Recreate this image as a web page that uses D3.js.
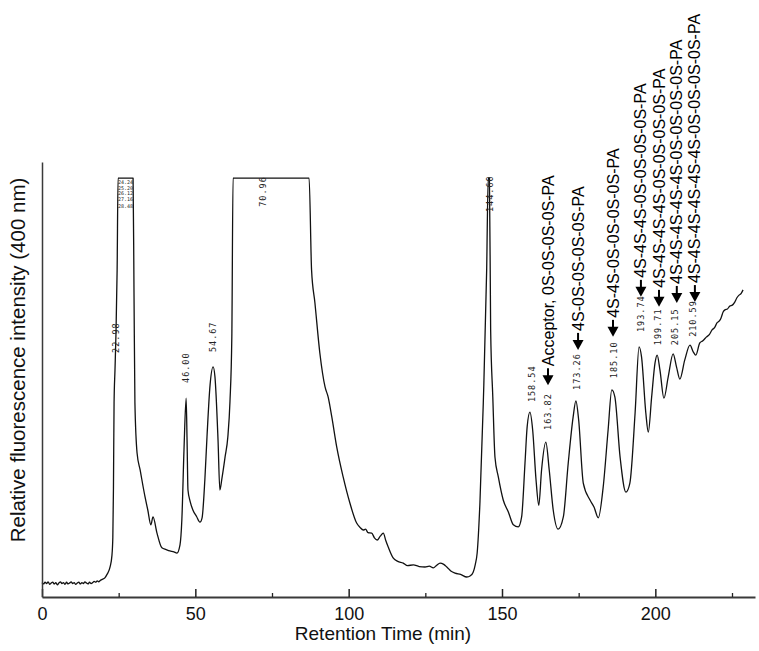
<!DOCTYPE html>
<html><head><meta charset="utf-8">
<script src="https://cdn.jsdelivr.net/npm/d3@7"></script>
<style>html,body{margin:0;padding:0;background:#fff;} svg{display:block;}</style>
</head><body>
<svg id="chart" width="759" height="651"></svg>
<script>
// ---------- data ----------
const timeMin = [
 0,0.5,1,1.5,2,2.5,3,3.5,4,4.5,5,5.5,6,6.5,7,7.5,8,8.5,9,9.5,10,10.5,11,11.5,12,12.5,13,13.5,14,14.5,15,15.5,16,16.5,17,17.5,18,18.5,19,19.5,
 20.5,21.2,22.2,22.8,23.1,23.3,23.5,23.8,24.1,24.5,24.8,29.7,30.0,30.3,31.0,32.0,33.6,34.5,35.5,36.2,37.5,39.1,40.5,41.7,43.0,44.0,45.0,45.6,46.3,47.0,47.3,47.6,48.3,49.2,50.4,51.5,52.2,53.1,53.8,54.8,55.8,56.4,57.4,58.0,58.7,59.7,60.6,61.3,61.9,62.3,
 87.1,87.9,89.0,90.6,92.3,93.3,94.5,96.1,98.2,100.4,102.6,103.7,104.8,105.5,106.3,107.5,108.4,109.3,110.3,111.3,112.1,112.9,114.5,116.0,117.8,119.2,121.1,123.0,124.9,126.3,127.6,128.7,129.8,131.0,132.0,133.3,134.7,136.5,138.5,139.7,140.6,141.3,141.9,142.8,143.9,145.0,145.5,145.9,146.3,
 147.0,147.7,148.8,150.4,152.1,153.7,155.3,156.4,157.5,158.2,159.1,160.0,161.1,162.0,162.9,164.3,165.4,166.7,168.3,170.0,171.6,173.2,174.1,175.0,176.5,178.7,180.0,181.4,183.0,184.6,185.8,186.8,188.5,190.4,191.7,193.4,194.7,195.5,196.9,197.7,198.8,199.9,200.6,201.5,202.8,204.2,205.8,206.9,208.0,209.6,211.3,212.4,213.2,214.5,215.5,216.7,217.6,218.5,219.3,220.1,220.8,221.4,222.1,222.7,223.5,224.3,225.1,225.9,226.6,227.3,228.0,228.6
];
const intensity = [
 3.3,3.0,3.4,3.1,3.5,2.9,3.2,3.4,3.0,3.3,2.8,3.2,3.5,3.1,3.3,2.9,3.4,3.0,3.2,3.5,3.1,3.3,2.9,3.2,3.4,3.0,3.3,3.1,3.5,3.2,3.0,3.4,3.1,3.3,3.6,3.4,3.7,3.5,3.8,4.0,
 4.4,5.2,6.9,9.5,13.8,25,44.6,52.2,60,75.2,96.3,96.3,70,44.6,33.1,29.2,23.0,20.0,16.6,18.4,14.7,11.3,10.9,10.6,10.4,10.1,12.0,17.7,33.8,45.7,36.1,24.6,22.0,20.0,18.5,17.2,18.2,26.9,36.8,48.7,52.9,50.6,36.1,24.6,27.4,32.2,36.8,45,59.8,96.3,
 96.3,75.2,67.6,56.1,48.3,46.0,41.4,34.5,27.6,21.6,17.0,16.0,15.4,15.6,14.8,14.7,13.6,13.1,14.0,14.7,13.0,11.5,9.0,8.2,7.8,7.2,7.4,7.0,6.9,7.1,6.7,7.3,7.8,7.5,6.9,6.0,5.5,5.2,4.6,4.9,5.7,7.5,10.1,21.6,44.6,75.2,96.3,96.3,61.4,
 46.0,32.2,27.6,22.3,19.5,16.6,16.1,18.4,30.8,39.1,42.5,38.4,26.9,21.1,29.2,35.6,29.2,20.0,15.6,18.4,30.8,41.4,45.1,40.7,26.2,22.3,20.7,18.2,25.3,38.4,47.6,46.0,32.2,24.1,26.2,42.3,57.5,55.2,42.3,37.9,46.0,53.8,55.6,52.2,45.7,50.6,55.9,52.9,50.1,54.5,57.9,56.3,55.6,58.4,58.9,59.8,60.3,61.4,61.9,63.0,63.4,64.1,65.5,66.0,66.2,66.9,67.1,67.8,68.8,69.4,69.8,70.6
];

const majorTicks = [0, 50, 100, 150, 200];
const minorTicks = [25, 75, 125, 175, 225];

// printer peak labels (retention time text, anchor time, anchor level)
const peakText  = ["22.98","46.00","54.67","70.96","144.60","158.54","163.82","173.26","185.10","193.74","199.71","205.15","210.59"];
const peakTime  = [24.1, 47.0, 55.8, 72.1, 146.1, 159.8, 165.0, 174.4, 186.5, 195.3, 200.9, 206.4, 212.3];
const peakLevel = [56.1, 49.2, 56.3, 89.7, 88.5, 44.8, 38.4, 47.6, 50.3, 60.9, 57.9, 57.9, 59.8];

// crowded labels on the saturated first peak
const clusterText  = ["24.24","25.20","26.12","27.16","28.48"];
const clusterTime  = [27.2, 27.2, 27.2, 27.2, 27.2];
const clusterLevel = [95.4, 94.0, 92.9, 91.5, 89.9];

// arrow annotations (text, time, level of arrow tip)
const annoText = [
 "Acceptor, 0S-0S-0S-0S-PA",
 "4S-0S-0S-0S-0S-PA",
 "4S-4S-0S-0S-0S-0S-PA",
 "4S-4S-4S-0S-0S-0S-0S-PA",
 "4S-4S-4S-4S-0S-0S-0S-0S-PA",
 "4S-4S-4S-4S-4S-0S-0S-0S-0S-PA",
 "4S-4S-4S-4S-4S-4S-0S-0S-0S-0S-PA"
];
const annoTime  = [165.0, 174.8, 186.2, 195.3, 201.2, 207.0, 212.9];
const annoLevel = [48.7, 56.8, 59.8, 69.0, 66.7, 67.6, 67.8];

// ---------- chart ----------
const svg = d3.select("#chart");
svg.append("rect").attr("width",759).attr("height",651).attr("fill","#fff");

const x = d3.scaleLinear().domain([0, 232.5]).range([42, 755]);
const y = d3.scaleLinear().domain([0, 100]).range([597, 162]);

const data = timeMin.map((t,i)=>({t, v:intensity[i]}));

// trace
const line = d3.line().x(d=>x(d.t)).y(d=>y(d.v)).curve(d3.curveMonotoneX);
svg.append("path").datum(data).attr("d", line)
  .attr("fill","none").attr("stroke","#111").attr("stroke-width",1.3).attr("stroke-linejoin","round");

// axes
const gx = svg.append("g").attr("transform",`translate(0,${y(0)})`)
  .call(d3.axisBottom(x).tickValues(majorTicks).tickSizeInner(-8).tickSizeOuter(0).tickPadding(10));
gx.select(".domain").attr("stroke","#3a3a3a").attr("stroke-width",2);
gx.selectAll(".tick line").attr("stroke","#222").attr("stroke-width",1.5);
gx.selectAll(".tick text").attr("font-family","'Liberation Sans', Arial, sans-serif").attr("font-size",18).attr("fill","#111");

const gm = svg.append("g").attr("transform",`translate(0,${y(0)})`)
  .call(d3.axisBottom(x).tickValues(minorTicks).tickSizeInner(-4).tickSizeOuter(0).tickFormat(""));
gm.select(".domain").remove();
gm.selectAll(".tick line").attr("stroke","#222").attr("stroke-width",1.3);

const gy = svg.append("g").attr("transform",`translate(${x(0)},0)`)
  .call(d3.axisLeft(y).tickValues([]).tickSizeOuter(0));
gy.select(".domain").attr("stroke","#3a3a3a").attr("stroke-width",1.5);

// axis titles
svg.append("text").attr("x",383).attr("y",640).attr("text-anchor","middle")
  .attr("font-family","'Liberation Sans', Arial, sans-serif").attr("font-size",19).attr("fill","#111")
  .text("Retention Time (min)");
svg.append("text").attr("transform","translate(17,360) rotate(-90)").attr("text-anchor","middle")
  .attr("dominant-baseline","central")
  .attr("font-family","'Liberation Sans', Arial, sans-serif").attr("font-size",20.5).attr("fill","#111")
  .text("Relative fluorescence intensity (400 nm)");

// peak labels
svg.append("g").selectAll("text").data(peakText).join("text")
  .attr("transform",(d,i)=>`translate(${x(peakTime[i])},${y(peakLevel[i])}) rotate(-90)`)
  .attr("text-anchor","start").attr("dominant-baseline","central")
  .attr("font-family","'DejaVu Sans Mono', monospace").attr("font-size",8.5)
  .attr("letter-spacing",1).attr("fill","#222").text(d=>d);

svg.append("g").selectAll("text").data(clusterText).join("text")
  .attr("x",(d,i)=>x(clusterTime[i])).attr("y",(d,i)=>y(clusterLevel[i]))
  .attr("text-anchor","middle").attr("dominant-baseline","central")
  .attr("font-family","'DejaVu Sans Mono', monospace").attr("font-size",5)
  .attr("fill","#222").text(d=>d);

// arrow annotations
const ga = svg.append("g");
annoText.forEach((txt,i)=>{
  const ax = x(annoTime[i]), ay = y(annoLevel[i]);
  ga.append("line").attr("x1",ax).attr("x2",ax).attr("y1",ay-17).attr("y2",ay-8)
    .attr("stroke","#000").attr("stroke-width",2);
  ga.append("path").attr("d",`M${ax-5.5},${ay-10} L${ax+5.5},${ay-10} L${ax},${ay} Z`).attr("fill","#000");
  ga.append("text").attr("transform",`translate(${ax},${ay-19}) rotate(-90)`)
    .attr("text-anchor","start").attr("dominant-baseline","central")
    .attr("font-family","'Liberation Sans', Arial, sans-serif").attr("font-size",16).attr("fill","#000")
    .text(txt);
});
</script>
</body></html>
